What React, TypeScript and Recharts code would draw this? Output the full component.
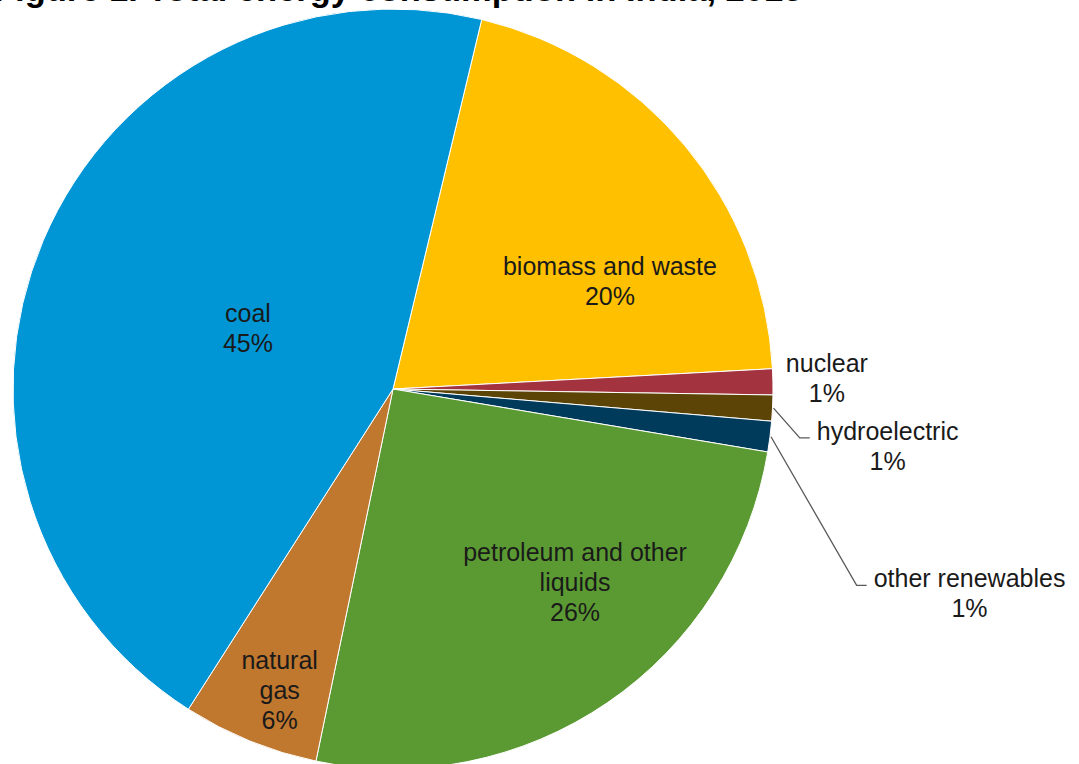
import React from 'react';
import { PieChart, Pie, Cell } from 'recharts';

const categories = [
  'biomass and waste',
  'nuclear',
  'hydroelectric',
  'other renewables',
  'petroleum and other liquids',
  'natural gas',
  'coal',
];
const shares = [20.4, 1.1, 1.1, 1.3, 25.6, 5.8, 44.7];
const labelLines = [
  ['biomass and waste'],
  ['nuclear'],
  ['hydroelectric'],
  ['other renewables'],
  ['petroleum and other', 'liquids'],
  ['natural', 'gas'],
  ['coal'],
];

const colors = ['#FFC000', '#A3343F', '#5C4306', '#003B5C', '#5B9A33', '#C0772E', '#0096D6'];

// label spot: distance from centre, and clockwise nudge off the slice middle (deg)
const labelPlace = [
  { r: 242, shift: 13.5 },
  { r: 434, shift: -0.3 },
  { r: 498, shift: 3.8, leader: true },
  { r: 612, shift: 12.4, leader: true },
  { r: 266, shift: -8.8 },
  { r: 323, shift: -1.6 },
  { r: 157, shift: -0.5 },
];

const chartData = categories.map((name, i) => ({ name, value: shares[i] }));

const RAD = Math.PI / 180;
const FONT = 25;
const LH = 30;
const FAMILY = '"Liberation Sans", Arial, sans-serif';

const measure = (s: string) => {
  const ctx = document.createElement('canvas').getContext('2d');
  if (!ctx) return s.length * FONT * 0.5;
  ctx.font = `${FONT}px ${FAMILY}`;
  return ctx.measureText(s).width;
};

const renderLabel = (props: any) => {
  const { cx, cy, midAngle, outerRadius, index, value } = props;
  const place = labelPlace[index];
  const a = (midAngle - place.shift) * RAD;
  const x = cx + place.r * Math.cos(a);
  const y = cy - place.r * Math.sin(a);
  const lines = [...labelLines[index], `${Math.round(value)}%`];
  const top = y - ((lines.length - 1) * LH) / 2;

  let leader = null;
  if (place.leader) {
    const w = measure(lines[0]);
    const ex = x - w / 2 - 7;
    const ey = top + 6;
    const sx = cx + (outerRadius + 1) * Math.cos(midAngle * RAD);
    const sy = cy - (outerRadius + 1) * Math.sin(midAngle * RAD);
    leader = (
      <polyline
        points={`${sx},${sy} ${ex - 10},${ey} ${ex},${ey}`}
        fill="none"
        stroke="#595959"
        strokeWidth={1.3}
      />
    );
  }

  return (
    <g>
      {leader}
      <text x={x} textAnchor="middle" fontSize={FONT} fontFamily={FAMILY} fill="#1a1a1a">
        {lines.map((t, i) => (
          <tspan key={i} x={x} y={top + i * LH + 8}>
            {t}
          </tspan>
        ))}
      </text>
    </g>
  );
};

export default function App() {
  return (
    <div
      style={{
        position: 'absolute',
        left: 0,
        top: 0,
        width: 1079,
        height: 764,
        overflow: 'hidden',
        background: '#fff',
      }}
    >
      {/* title is cropped off the top in the source image */}
      <div
        style={{
          position: 'absolute',
          left: -6,
          top: -28,
          fontSize: 34.5,
          lineHeight: '34.5px',
          fontWeight: 'bold',
          fontFamily: FAMILY,
          whiteSpace: 'nowrap',
          color: '#000',
        }}
      >
        Figure 1. Total energy consumption in India, 2013
      </div>
      <PieChart width={1079} height={764} margin={{ top: 0, right: 0, bottom: 0, left: 0 }}>
        <Pie
          data={chartData}
          dataKey="value"
          nameKey="name"
          cx={393}
          cy={389}
          outerRadius={380}
          startAngle={76.5}
          endAngle={-283.5}
          stroke="#ffffff"
          strokeWidth={1}
          label={renderLabel}
          labelLine={false}
          isAnimationActive={false}
        >
          {chartData.map((d, i) => (
            <Cell key={d.name} fill={colors[i]} />
          ))}
        </Pie>
      </PieChart>
    </div>
  );
}
